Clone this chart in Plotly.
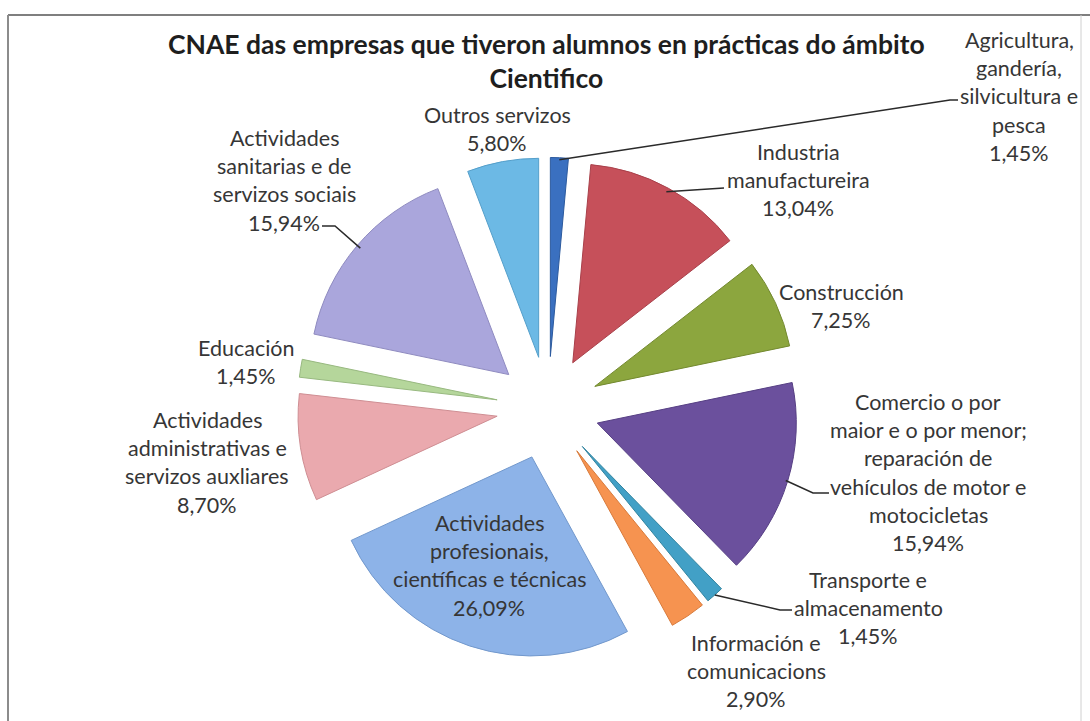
import math
import plotly.graph_objects as go

# ---------------- data ----------------
categories = [
    "Agricultura, gandería, silvicultura e pesca",
    "Industria manufactureira",
    "Construcción",
    "Comercio o por maior e o por menor; reparación de vehículos de motor e motocicletas",
    "Transporte e almacenamento",
    "Información e comunicacions",
    "Actividades profesionais, científicas e técnicas",
    "Actividades administrativas e servizos auxliares",
    "Educación",
    "Actividades sanitarias e de servizos sociais",
    "Outros servizos",
]
values = [1.45, 13.04, 7.25, 15.94, 1.45, 2.90, 26.09, 8.70, 1.45, 15.94, 5.80]
label_lines = [
    ["Agricultura,", "gandería,", "silvicultura e", "pesca"],
    ["Industria", "manufactureira"],
    ["Construcción"],
    ["Comercio o por", "maior e o por menor;", "reparación de", "vehículos de motor e", "motocicletas"],
    ["Transporte e", "almacenamento"],
    ["Información e", "comunicacions"],
    ["Actividades", "profesionais,", "científicas e técnicas"],
    ["Actividades", "administrativas e", "servizos auxliares"],
    ["Educación"],
    ["Actividades", "sanitarias e de", "servizos sociais"],
    ["Outros servizos"],
]
title_text = "<b>CNAE das empresas que tiveron alumnos en prácticas do ámbito<br>Cientifico</b>"

# ---------------- style / layout ----------------
colors = ["#3a70c0", "#c6505a", "#8ca63e", "#6b509d", "#42a0c6", "#f69350",
          "#8db3e8", "#eaa9ae", "#b5d69b", "#aaa6dc", "#6cb9e5"]
edge_colors = ["#2c5a9e", "#a8404a", "#73892f", "#574084", "#32849f", "#d87a3a",
               "#7298cc", "#cf8e93", "#98b980", "#8f8bc0", "#559fca"]

W, H = 1090, 721
CX, CY = 548, 408          # pie centre in pixels
R = 199                    # slice radius in pixels
PULL = 0.259
HALF = R * (1 + PULL)
LINE_STEP = 28.2
FONT = "Lato"
TXT = "#363636"
LABEL_SIZE = 21.5

# label blocks: centre x, y of first line (pixels)
label_pos = {
    0: (1019, 40), 1: (798, 152), 2: (841, 292), 3: (928, 402), 4: (868, 580),
    5: (756, 643), 6: (489, 523), 7: (207, 420), 8: (246, 348), 9: (284, 138),
    10: (497, 115),
}
# leader line way-points from label side (pixels); slice end computed from data
leaders = {
    0: [(958, 100), (950, 100)],
    1: [(724, 188)],
    3: [(829, 493), (813, 493)],
    4: [(792, 610), (780, 610)],
    9: [(322, 226), (335, 226)],
}
leader_r = {0: 0.99, 1: 0.98, 3: 0.99, 4: 1.0, 9: 0.98}


def px(x):
    return x / W


def py(y):
    return 1 - y / H


fig = go.Figure()
fig.add_trace(go.Pie(
    labels=categories,
    values=values,
    sort=False,
    direction="clockwise",
    rotation=0,
    pull=[PULL] * len(values),
    marker=dict(colors=colors, line=dict(color=edge_colors, width=1)),
    textinfo="none",
    hoverinfo="label+percent",
    showlegend=False,
    domain=dict(x=[px(CX - HALF), px(CX + HALF)], y=[py(CY + HALF), py(CY - HALF)]),
))

annotations = []
for i, lines in enumerate(label_lines):
    pct = f"{values[i]:.2f}".replace(".", ",") + "%"
    all_lines = lines + [pct]
    cx, y0 = label_pos[i]
    for k, t in enumerate(all_lines):
        annotations.append(dict(
            x=px(cx), y=py(y0 + k * LINE_STEP), xref="paper", yref="paper",
            text=t, showarrow=False, xanchor="center", yanchor="middle",
            font=dict(family=FONT, size=LABEL_SIZE, color=TXT),
        ))

annotations.append(dict(
    x=px(547), y=py(61), xref="paper", yref="paper", text=title_text,
    showarrow=False, xanchor="center", yanchor="middle",
    font=dict(family=FONT, size=26.5, color="#1e1e1e"),
))

shapes = []
total = sum(values)
cum = 0.0
mids = []
for v in values:
    mids.append(2 * math.pi * (cum + v / 2) / total)
    cum += v

for i, pts in leaders.items():
    th = mids[i]
    vx = CX + PULL * R * math.sin(th)
    vy = CY - PULL * R * math.cos(th)
    ex = vx + leader_r[i] * R * math.sin(th)
    ey = vy - leader_r[i] * R * math.cos(th)
    allp = pts + [(ex, ey)]
    path = "M " + " L ".join(f"{px(x):.5f} {py(y):.5f}" for x, y in allp)
    shapes.append(dict(type="path", path=path, xref="paper", yref="paper",
                       line=dict(color="#2a2a2a", width=1.5)))

# frame (top, left, right)
frame = [((8, 15, 1090, 15), "#7f7f7f", 2), ((8, 15, 8, 721), "#8c8c8c", 2),
         ((1081, 15, 1081, 721), "#d0d0d0", 1)]
for (x0, y0, x1, y1), col, wd in frame:
    shapes.append(dict(type="line", xref="paper", yref="paper",
                       x0=px(x0), y0=py(y0), x1=px(x1), y1=py(y1),
                       line=dict(color=col, width=wd)))

fig.update_layout(
    width=W, height=H,
    margin=dict(l=0, r=0, t=0, b=0),
    paper_bgcolor="white",
    plot_bgcolor="white",
    annotations=annotations,
    shapes=shapes,
    font=dict(family=FONT),
)

fig.write_html("out.html",
               config={"displayModeBar": False},
               post_script="document.body.style.margin='0px';document.body.style.overflow='hidden';")
